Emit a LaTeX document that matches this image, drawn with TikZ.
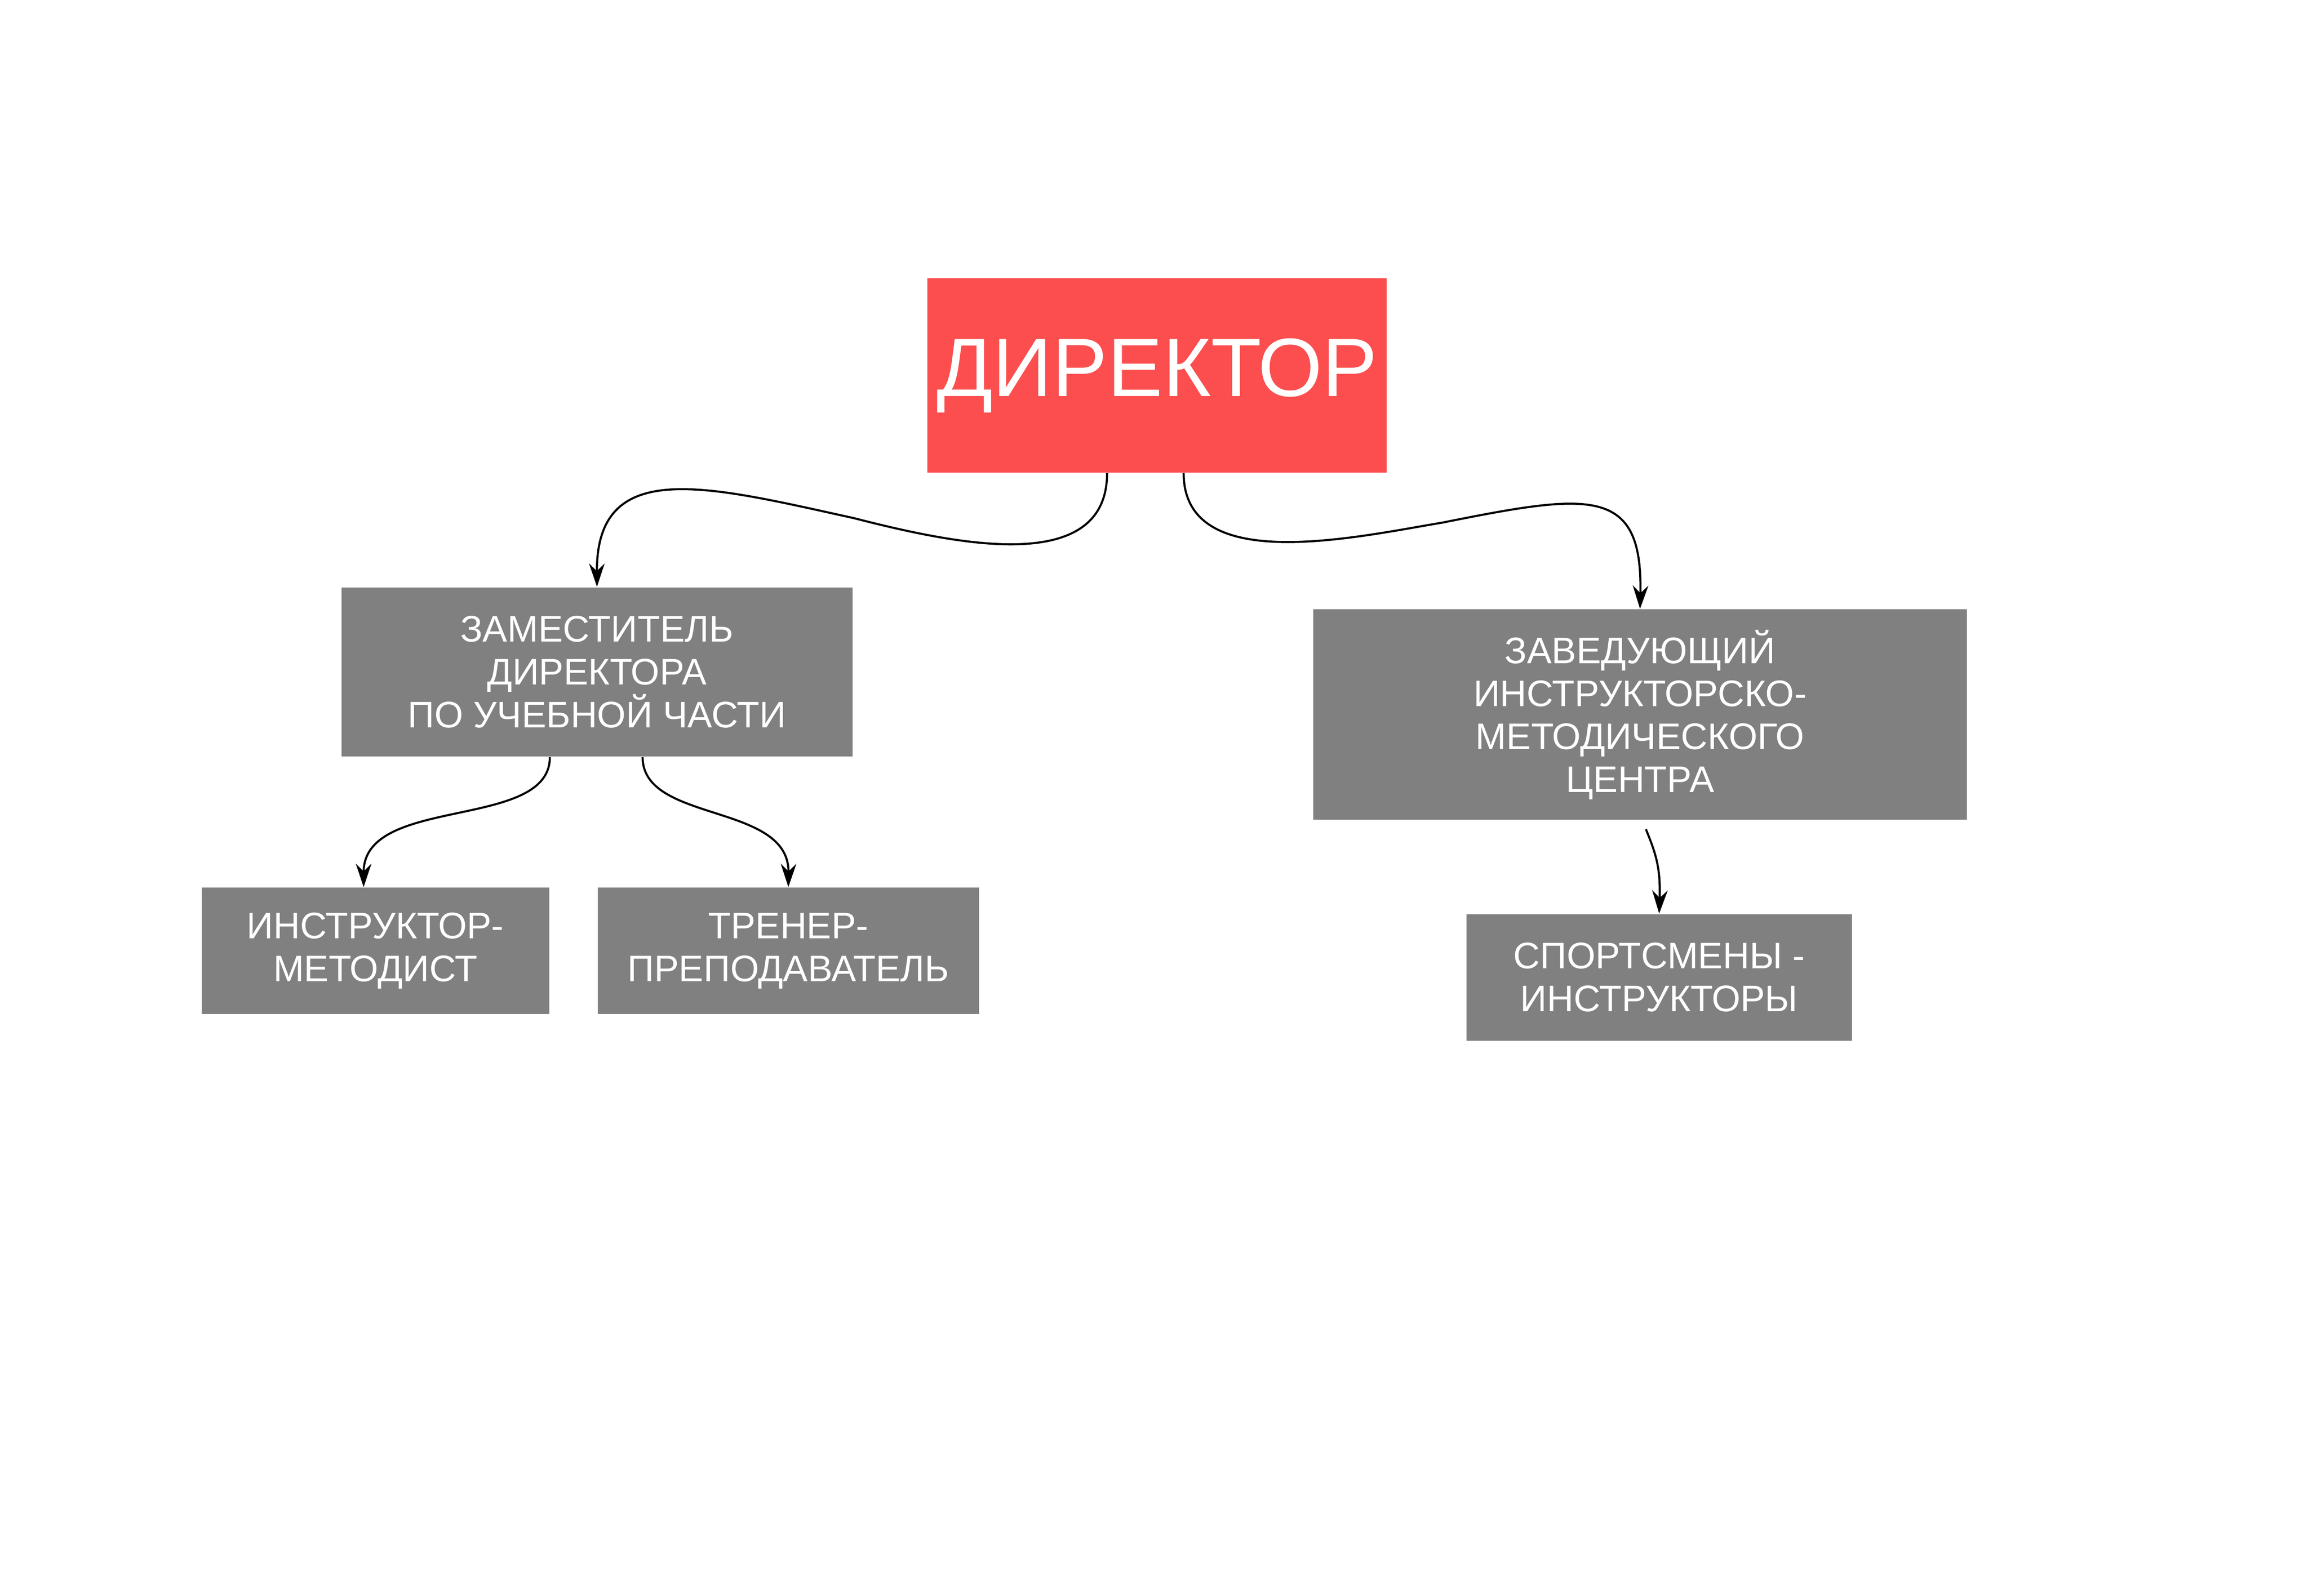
\documentclass[tikz,border=0pt]{standalone}
\usepackage{fontspec}
\setmainfont{Liberation Sans}
\usetikzlibrary{calc,arrows.meta}
\begin{document}
\begin{tikzpicture}[x=0.02cm,y=-0.02cm,
  box/.style={fill=boxgray,text=white,inner sep=0pt,align=center,font=\fontsize{14.3}{16.6}\selectfont},
  conn/.style={-{Stealth[length=9pt,width=6pt]},line width=0.8pt}]
\definecolor{boxgray}{RGB}{128,128,128}
\definecolor{dirred}{RGB}{252,78,78}
\useasboundingbox[fill=white] (0,0) rectangle (1567.75,1084);
\node[fill=dirred,text=white,inner sep=0pt,minimum width=312*0.02cm,minimum height=132*0.02cm,font=\fontsize{32}{38}\selectfont] (dir) at (786,255) {ДИРЕКТОР\hspace{0.9cm}};
\node[box,minimum width=347*0.02cm,minimum height=115*0.02cm] (zam) at (405.5,456.5) {ЗАМЕСТИТЕЛЬ\\ДИРЕКТОРА\\ПО УЧЕБНОЙ ЧАСТИ};
\node[box,minimum width=444*0.02cm,minimum height=143*0.02cm] (zav) at (1114,485.5) {ЗАВЕДУЮЩИЙ\\ИНСТРУКТОРСКО-\\МЕТОДИЧЕСКОГО\\ЦЕНТРА};
\node[box,minimum width=236*0.02cm,minimum height=86*0.02cm] (ins) at (255,646) {ИНСТРУКТОР-\\МЕТОДИСТ};
\node[box,minimum width=259*0.02cm,minimum height=86*0.02cm] (tre) at (535.5,646) {ТРЕНЕР-\\ПРЕПОДАВАТЕЛЬ};
\node[box,minimum width=262*0.02cm,minimum height=86*0.02cm] (spo) at (1127,664) {СПОРТСМЕНЫ -\\ИНСТРУКТОРЫ};
\draw[conn] ($(dir.south)+(-34,0)$) .. controls +(0,70) and (650,370) .. (580,352) .. controls (480,330) and (405,310) .. (zam.north);
\draw[conn] ($(dir.south)+(18,0)$) .. controls +(0,70) and (920,365) .. (980,355) .. controls (1080,335) and (1116,330) .. (zav.north);
\draw[conn] ($(zam.south)+(-32,0)$) .. controls +(0,50) and (247,540) .. ($(ins.north)+(-8,0)$);
\draw[conn] ($(zam.south)+(31,0)$) .. controls +(0,45) and (536,545) .. (tre.north);
\draw[conn] ($(zav.south)+(4,6)$) .. controls +(7,17) and (1128,590) .. (spo.north);
\end{tikzpicture}
\end{document}
